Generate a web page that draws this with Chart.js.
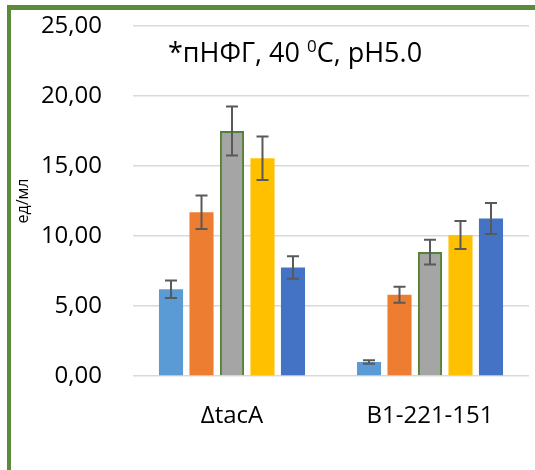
<!DOCTYPE html>
<html><head><meta charset="utf-8">
<script src="https://cdn.jsdelivr.net/npm/chart.js@4"></script>
<style>html,body{margin:0;padding:0;background:#fff}#wrap{width:535px;height:470px;position:relative}</style>
</head><body><div id="wrap"><canvas id="c" width="535" height="470"></canvas></div>
<script>
const categories = ['ΔtacA', 'B1-221-151'];
const seriesNames = ['1', '2', '3', '4', '5'];
const series1 = [6.2, 1.0];
const series2 = [11.7, 5.8];
const series3 = [17.5, 8.85];
const series4 = [15.55, 10.07];
const series5 = [7.75, 11.25];
const err1 = [0.62, 0.12];
const err2 = [1.2, 0.57];
const err3 = [1.75, 0.88];
const err4 = [1.55, 1.0];
const err5 = [0.8, 1.1];
const yTicks = [0, 5, 10, 15, 20, 25];
const titleParts = ['*пНФГ, 40 ', '0', 'C, pH5.0'];
const yTitle = 'ед/мл';

const colors = ['#5B9BD5', '#ED7D31', '#A5A5A5', '#FFC000', '#4472C4'];
const values = [series1, series2, series3, series4, series5];
const errs = [err1, err2, err3, err4, err5];
const FONT = "'Open Sans', 'Noto Sans', sans-serif";

const datasets = values.map((v, i) => ({
  label: seriesNames[i],
  data: v,
  backgroundColor: colors[i],
  borderColor: i === 2 ? '#548235' : colors[i],
  borderWidth: i === 2 ? 2 : 0,
  barPercentage: 0.79,
  categoryPercentage: 0.77,
  errors: errs[i]
}));

const errorBars = {
  id: 'errorBars',
  afterDatasetsDraw(chart) {
    const ctx = chart.ctx, y = chart.scales.y;
    ctx.save();
    ctx.strokeStyle = '#595959';
    ctx.lineWidth = 2;
    chart.data.datasets.forEach((ds, i) => {
      const meta = chart.getDatasetMeta(i);
      meta.data.forEach((el, j) => {
        const v = ds.data[j], e = ds.errors[j];
        const x = el.x, t = y.getPixelForValue(v + e), b = y.getPixelForValue(v - e);
        ctx.beginPath();
        ctx.moveTo(x, t); ctx.lineTo(x, b);
        ctx.moveTo(x - 6, t); ctx.lineTo(x + 6, t);
        ctx.moveTo(x - 6, b); ctx.lineTo(x + 6, b);
        ctx.stroke();
      });
    });
    ctx.restore();
  }
};

const decor = {
  id: 'decor',
  afterDraw(chart) {
    const ctx = chart.ctx;
    ctx.save();
    ctx.fillStyle = '#5B8A3A';
    ctx.fillRect(7, 5, 4, 470);
    ctx.fillRect(7, 5, 528, 5);
    ctx.fillStyle = '#000';
    ctx.textBaseline = 'alphabetic';
    ctx.textAlign = 'left';
    let x = 168;
    const base = 62;
    ctx.font = '27px ' + FONT;
    ctx.fillText(titleParts[0], x, base);
    x += ctx.measureText(titleParts[0]).width;
    ctx.font = '17px ' + FONT;
    ctx.fillText(titleParts[1], x, base - 10);
    x += ctx.measureText(titleParts[1]).width;
    ctx.font = '27px ' + FONT;
    ctx.fillText(titleParts[2], x, base);
    ctx.restore();
  }
};

new Chart(document.getElementById('c'), {
  type: 'bar',
  data: { labels: categories, datasets },
  plugins: [errorBars, decor],
  options: {
    responsive: false,
    devicePixelRatio: 1,
    animation: false,
    layout: { padding: { left: 0, right: 6, top: 26, bottom: 0 } },
    plugins: { legend: { display: false }, tooltip: { enabled: false }, title: { display: false } },
    scales: {
      x: {
        grid: { display: false },
        border: { display: false },
        ticks: { color: '#000', font: { family: FONT, size: 24 }, padding: 18 },
        afterFit(s) { s.height = 94; s.paddingLeft = 0; s.paddingRight = 0; }
      },
      y: {
        min: 0, max: 25,
        afterBuildTicks(s) { s.ticks = yTicks.map(v => ({ value: v })); },
        ticks: {
          color: '#000', font: { family: FONT, size: 24 }, padding: 31,
          callback: v => Number(v).toFixed(2).replace('.', ',')
        },
        grid: { color: '#D9D9D9', lineWidth: 1.5, drawTicks: false },
        border: { display: false },
        title: { display: true, text: yTitle, color: '#000', font: { family: FONT, size: 16 }, padding: { top: 14, bottom: 0 } },
        afterFit(s) { s.width = 133; s.paddingTop = 0; s.paddingBottom = 0; }
      }
    }
  }
});
</script>
</body></html>
